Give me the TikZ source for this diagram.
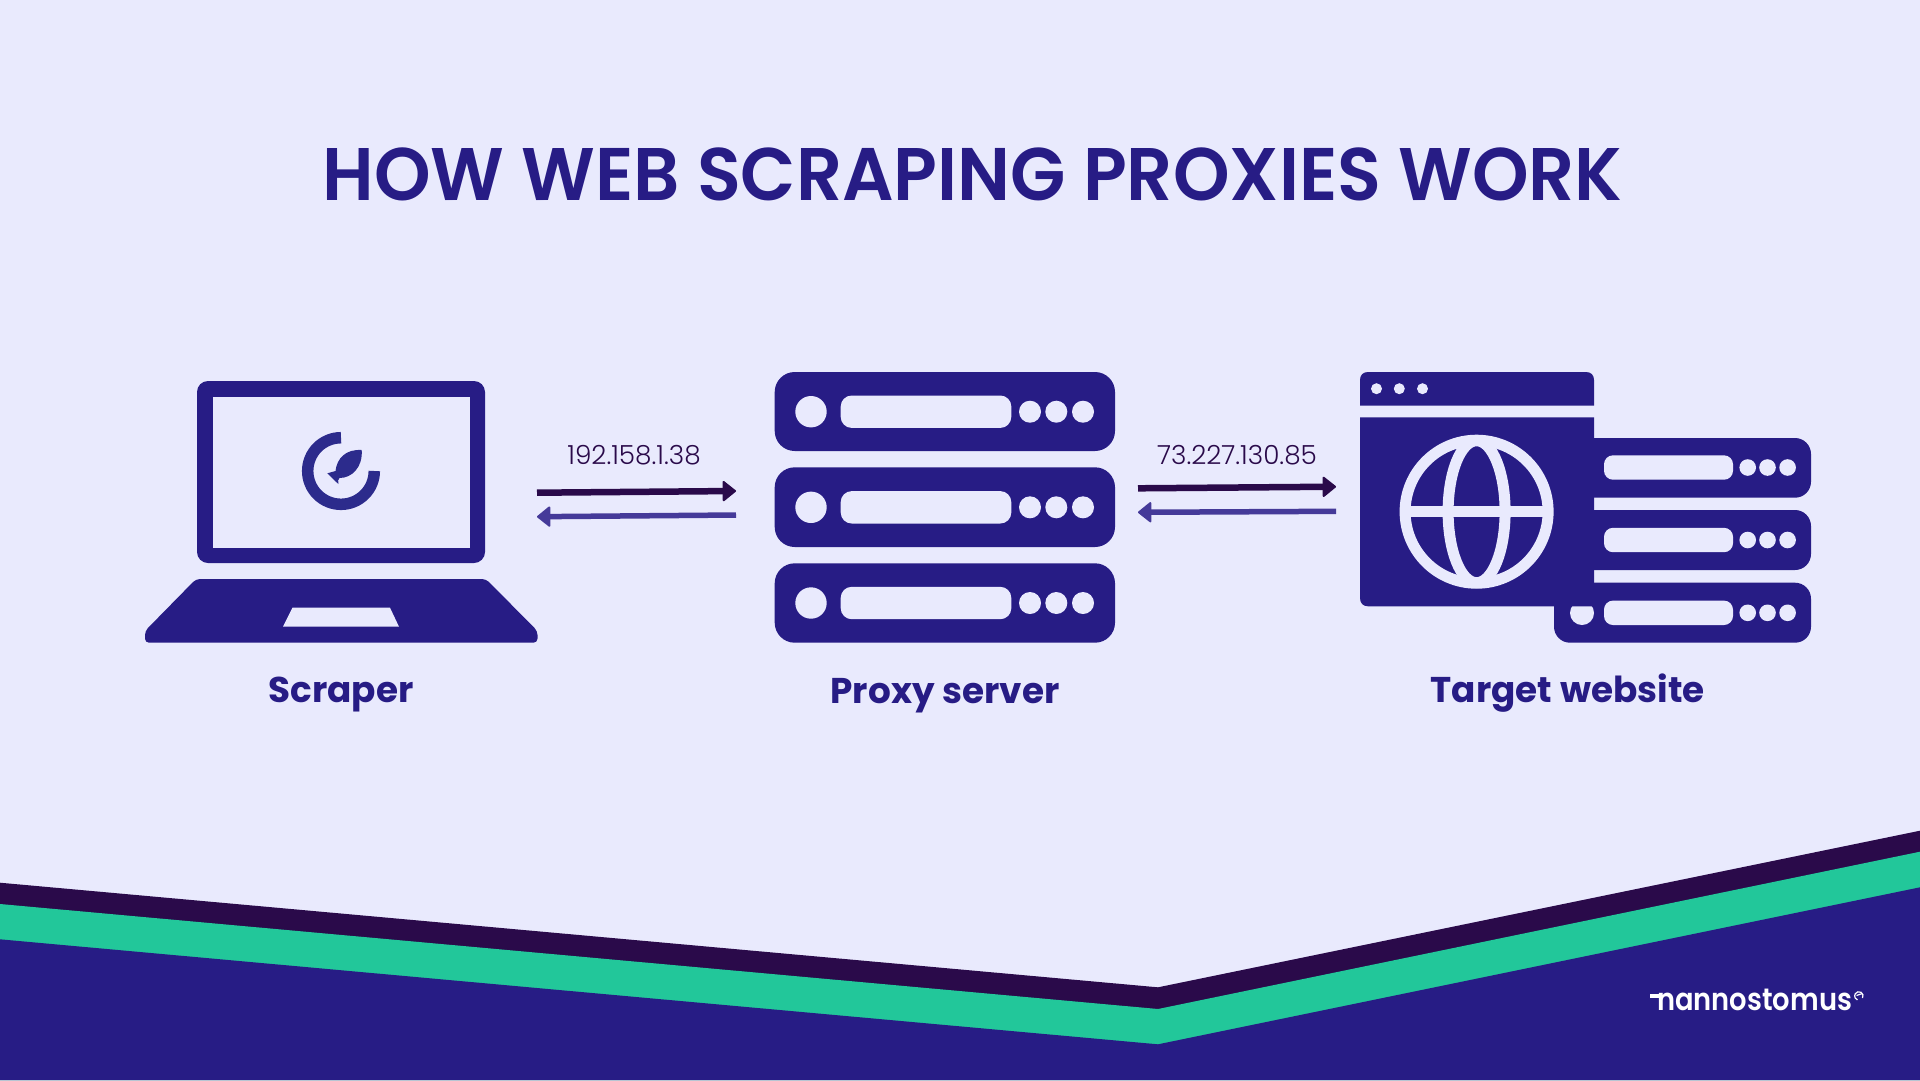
\documentclass[tikz,border=0pt]{standalone}
\usepackage{fontspec}
\usetikzlibrary{arrows.meta}
\setmainfont{Poppins}
\newfontfamily\poplight{Poppins Light}
\newfontfamily\popbold{Poppins Bold}
\newfontfamily\popsemi{Poppins SemiBold}
\definecolor{bgc}{HTML}{E9EAFD}
\definecolor{navy}{HTML}{271C85}
\definecolor{deep}{HTML}{2A0A4A}
\definecolor{mint}{HTML}{22C79A}
\definecolor{backarrow}{HTML}{453A99}
\definecolor{ringc}{HTML}{2C2B8C}
\tikzset{
  labeltext/.style={font=\popbold\fontsize{35.8}{36}\selectfont,text=navy,anchor=base,inner sep=0pt},
  iptext/.style={font=\poplight\fontsize{26.3}{26}\selectfont,text=deep,anchor=base,inner sep=0pt},
  fwdarrow/.style={draw=deep,line width=6.5pt,-{Triangle[length=14pt,width=22pt,round,line width=2pt]}},
  backarrowline/.style={draw=backarrow,line width=5.5pt,{Triangle[length=14pt,width=22pt,round,line width=2pt]}-},
}
\begin{document}
\begin{tikzpicture}[x=1pt,y=-1pt]
\useasboundingbox (0,0) rectangle (1920,1080);
\fill[bgc] (0,0) rectangle (1920,1080);
% bottom bands
\fill[deep] (0,882.7) -- (1158,987.3) -- (1920,830.7) -- (1920,1080) -- (0,1080) -- cycle;
\fill[mint] (0,904) -- (1158,1009) -- (1920,851.7) -- (1920,1080) -- (0,1080) -- cycle;
\fill[navy] (0,939.3) -- (1158,1044.3) -- (1920,887.3) -- (1920,1080) -- (0,1080) -- cycle;
% title
\node[anchor=base,inner sep=0pt,text=navy] (title) at (972.5,200)
  {\resizebox{1300pt}{\height}{\popsemi\fontsize{74.5}{74}\selectfont HOW WEB SCRAPING PROXIES WORK}};
% laptop
\fill[navy,rounded corners=11pt] (197,381) rectangle (485,563);
\fill[bgc] (213,396.7) rectangle (470,547.7);
\fill[navy,rounded corners=4pt] (196,579) -- (486,579) -- (537.5,631) -- (537.5,642.7) -- (145,642.7) -- (145,631) -- cycle;
\fill[bgc] (292.5,607.7) -- (390,607.7) -- (399,626.7) -- (283,626.7) -- cycle;
\draw[ringc,line width=11.5pt] (341,437.7) arc[start angle=90,end angle=360,radius=33.3pt];
\fill[ringc] (361.7,450) .. controls (346,449) and (337,458) .. (335.5,471) -- (327.3,473.3) -- (338.3,484)
  .. controls (338,481) and (338,479) .. (339.5,478) .. controls (352,478) and (363,467) .. (361.7,450) -- cycle;
% proxy server
\foreach \t/\b/\c in {372/451/411.7,467.3/547/507.3,563.3/642.7/603}{
  \fill[navy,rounded corners=20pt] (774.7,\t) rectangle (1115,\b);
  \fill[bgc] (811,\c) circle[radius=15.7pt];
  \fill[bgc,rounded corners=11pt] (840.7,\c-16.2) rectangle (1011.3,\c+16.2);
  \foreach \x in {1030,1056.3,1083} \fill[bgc] (\x,\c) circle[radius=11pt];
}
% target website rows
\fill[navy,rounded corners=16pt] (1560,438) rectangle (1811,497.7);
\fill[navy,rounded corners=16pt] (1560,510) rectangle (1811,570);
\fill[navy,rounded corners=16pt] (1554,582.7) rectangle (1811,642.7);
\fill[bgc] (1582,613) circle[radius=12pt];
\foreach \c in {467.5,540,612.8}{
  \fill[bgc,rounded corners=9pt] (1604,\c-12.2) rectangle (1733,\c+12.2);
  \foreach \x in {1747.7,1767.5,1787.6} \fill[bgc] (\x,\c) circle[radius=8.3pt];
}
% browser window
\fill[navy] (1360,405.7) -- (1360,380) .. controls (1360,375) and (1363,372) .. (1368,372) -- (1586,372)
  .. controls (1591,372) and (1594,375) .. (1594,380) -- (1594,405.7) -- cycle;
\fill[navy] (1360,417.3) -- (1594,417.3) -- (1594,606.3) -- (1368,606.3)
  .. controls (1363,606.3) and (1360,603) .. (1360,598) -- cycle;
\foreach \x in {1376.5,1399.3,1422.5} \fill[bgc] (\x,388.7) circle[radius=5.5pt];
\draw[bgc,line width=11pt] (1476.6,511.7) circle[radius=71.5pt];
\draw[bgc,line width=11pt] (1476.6,511.7) circle[x radius=28.5pt,y radius=71pt];
\draw[bgc,line width=11.5pt] (1405,511.7) -- (1548,511.7);
% connectors
\coordinate (ipa1) at (537,492.7); \coordinate (ipa2) at (736,491);
\coordinate (ipb1) at (537,516.7); \coordinate (ipb2) at (736,515);
\coordinate (ipc1) at (1138,488.3); \coordinate (ipc2) at (1336,486.7);
\coordinate (ipd1) at (1138,512.3); \coordinate (ipd2) at (1336,511.3);
\draw[fwdarrow] (ipa1) -- (ipa2);
\draw[backarrowline] (ipb1) -- (ipb2);
\draw[fwdarrow] (ipc1) -- (ipc2);
\draw[backarrowline] (ipd1) -- (ipd2);
% labels
\node[iptext] (ip1) at (634,464) {192.158.1.38};
\node[iptext] (ip2) at (1237,464) {73.227.130.85};
\node[labeltext] (scraper) at (341,702.5) {Scraper};
\node[labeltext] (proxy) at (945,703) {Proxy server};
\node[labeltext] (target) at (1567.7,702.7) {Target website};
% logo
\node[anchor=base,inner sep=0pt,text=white] (logo) at (1754.5,1010)
  {\resizebox{195pt}{\height}{\popsemi\fontsize{31}{31}\selectfont nannostomus}};
\fill[white] (1650,994) rectangle (1660,998);
\draw[white,line width=1.2pt] (1862.5,998) arc[start angle=-30,end angle=250,radius=4.2pt];
\draw[white,line width=1.2pt] (1856.5,995.5) -- (1862.5,993.5);
\end{tikzpicture}
\end{document}
